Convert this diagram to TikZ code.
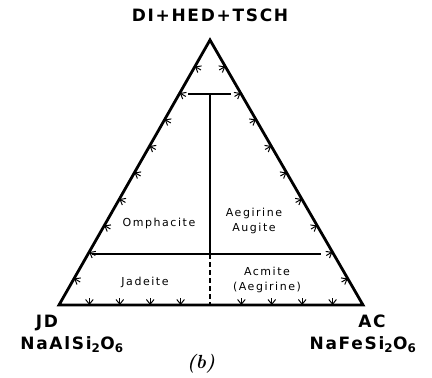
\documentclass[tikz,border=0pt]{standalone}
\usepackage{fontspec}
\usetikzlibrary{calc}
\newfontfamily\labfont[LetterSpace=10]{DejaVu Sans}
\newfontfamily\innerfont[LetterSpace=14]{DejaVu Sans}
\begin{document}
\begin{tikzpicture}[x=1pt,y=-1pt,
  side/.style={line width=2.8pt,line join=miter},
  inner/.style={line width=1.1pt},
  tickline/.style={line width=1pt},
  corner/.style={font=\labfont\bfseries\fontsize{17}{17}\selectfont,inner sep=0pt},
  region/.style={font=\innerfont\fontsize{11}{15}\selectfont,align=center,inner sep=0pt},
  tk/.pic={\draw[tickline] (7,0) -- (0,0); \draw[tickline] (5.5,3.8) -- (0.8,0) -- (5.5,-3.8);}
]
\useasboundingbox (0,0) rectangle (432,378);
\coordinate (A) at (210,40);
\coordinate (B) at (59,305);
\coordinate (C) at (363,305);
\draw[side] (B) -- (A) -- (C) -- cycle;
% ticks
\foreach \i in {1,...,9} {
  \path ($(B)!\i/10!(A)$) pic[rotate=-29.7]{tk};
  \path ($(C)!\i/10!(A)$) pic[rotate=209.7]{tk};
}
\foreach \i in {1,2,3,4,6,7,8,9} {
  \path ($(B)!\i/10!(C)$) pic[rotate=90]{tk};
}
% internal lines
\coordinate (t1) at (188,94);
\coordinate (t2) at (231,94);
\coordinate (tm) at (210,94);
\coordinate (h1) at (92,254);
\coordinate (h2) at (321,254);
\coordinate (hm) at (210,254);
\coordinate (bm) at (210,305);
\draw[inner] (t1) -- (t2);
\draw[inner] (tm) -- (hm);
\draw[inner] (h1) -- (h2);
\draw[inner,dash pattern=on 5pt off 3pt] (hm) -- (bm);
% labels
\node[corner] (top) at (210,15) {DI+HED+TSCH};
\node[corner] (jd) at (47,323) {JD};
\node[corner] (jdf) at (72,345) {NaAlSi\textsubscript{2}O\textsubscript{6}};
\node[corner] (ac) at (372,321) {AC};
\node[corner] (acf) at (363,345) {NaFeSi\textsubscript{2}O\textsubscript{6}};
\node[region] (omp) at (159,223) {Omphacite};
\node[region] (aeg) at (254,221) {Aegirine\\Augite};
\node[region] (jad) at (145,282) {Jadeite};
\node[region] (acm) at (267,280) {Acmite\\(Aegirine)};
\node[font=\bfseries\itshape\fontsize{19}{19}\selectfont] (b) at (201,364) {(b)};
\end{tikzpicture}
\end{document}
